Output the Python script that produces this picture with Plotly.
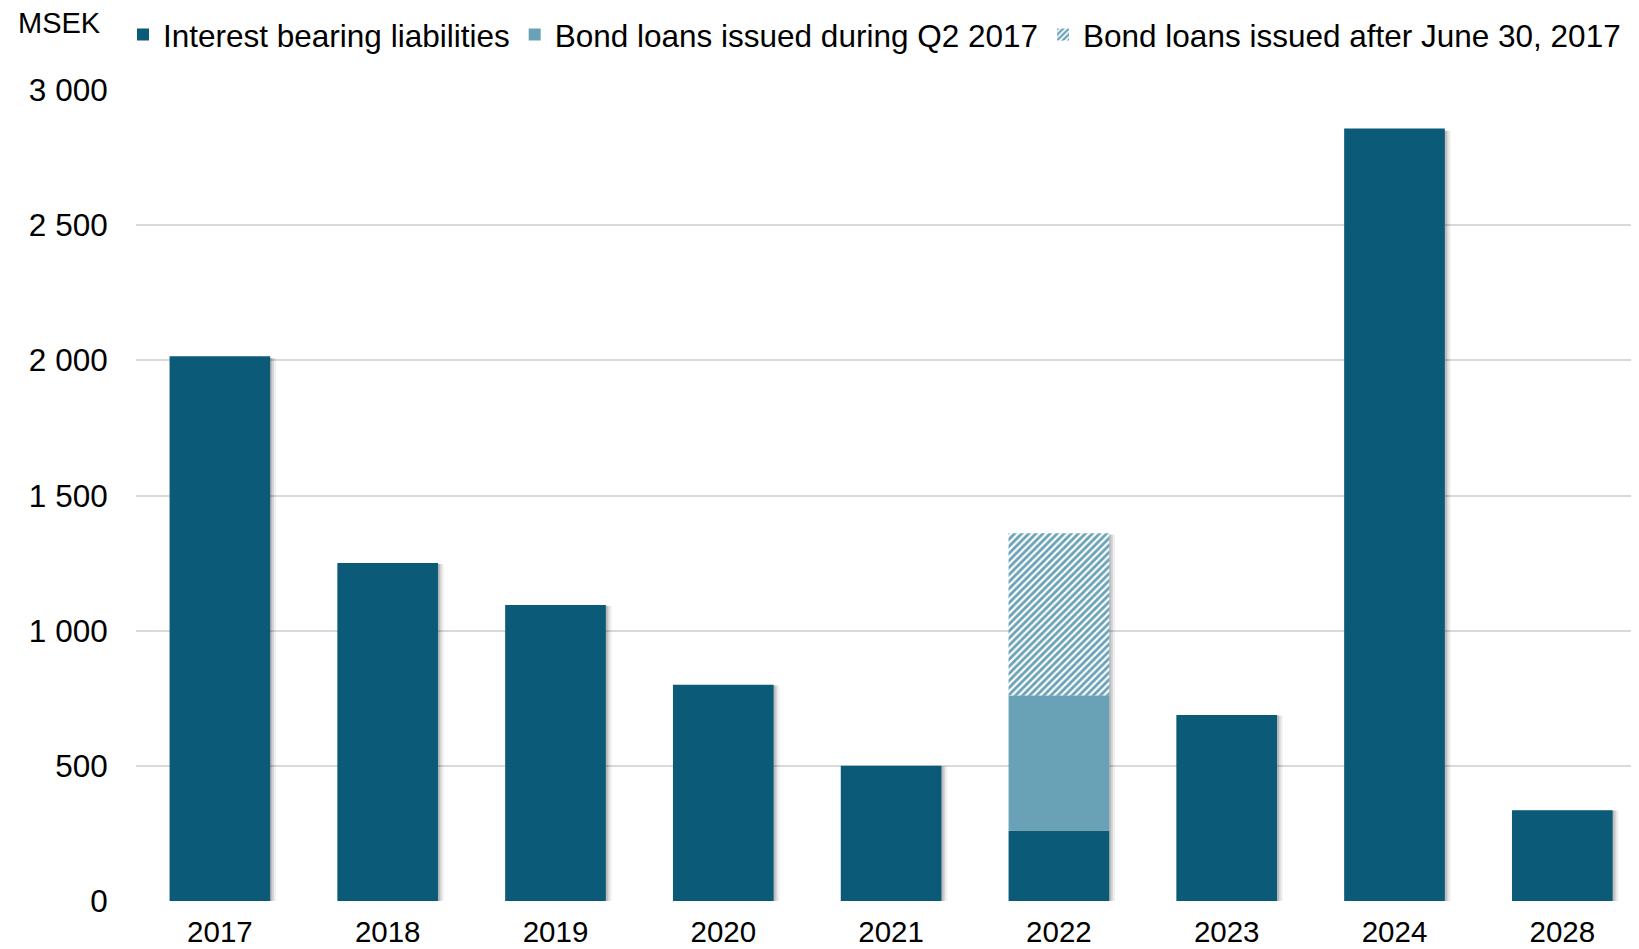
import plotly.graph_objects as go

years = ["2017", "2018", "2019", "2020", "2021", "2022", "2023", "2024", "2028"]
interest_bearing = [2015, 1250, 1095, 800, 500, 260, 688, 2858, 336]
bond_q2_2017 = [0, 0, 0, 0, 0, 500, 0, 0, 0]
bond_after_june = [0, 0, 0, 0, 0, 600, 0, 0, 0]
y_tickvals = [0, 500, 1000, 1500, 2000, 2500, 3000]
y_ticktext = ["0", "500", "1 000", "1 500", "2 000", "2 500", "3 000"]

DARK = "#0a5a78"
LIGHT = "#69a2b7"
FONT = "Liberation Sans, Arial, sans-serif"

totals = [a + b + c for a, b, c in zip(interest_bearing, bond_q2_2017, bond_after_june)]
base_after = [a + b for a, b in zip(interest_bearing, bond_q2_2017)]

# the page body adds an 8px margin; the plot area runs past the right edge of the window
W, H = 1680, 941
ML, MT, MB = 128, 82, 48
PW, PH = W - ML, H - MT - MB
STEP = 167.8  # pixels per category

fig = go.Figure()

# soft shadows to the right of the bars
for off, alpha in [(0.035, 0.06), (0.022, 0.10), (0.012, 0.12)]:
    fig.add_trace(go.Bar(
        x=years, y=[t * 0.997 for t in totals], base=0,
        width=0.6, offset=-0.3 + off,
        marker=dict(color=f"rgba(0,0,0,{alpha})", line=dict(width=0)),
        showlegend=False, hoverinfo="skip",
    ))

fig.add_trace(go.Bar(
    x=years, y=interest_bearing, base=0, width=0.6, offset=-0.3,
    name="Interest bearing liabilities",
    marker=dict(color=DARK, line=dict(width=0)),
))
fig.add_trace(go.Bar(
    x=years, y=bond_q2_2017, base=interest_bearing, width=0.6, offset=-0.3,
    name="Bond loans issued during Q2 2017",
    marker=dict(color=LIGHT, line=dict(width=0)),
))
fig.add_trace(go.Bar(
    x=years, y=bond_after_june, base=base_after, width=0.6, offset=-0.3,
    name="Bond loans issued after June 30, 2017",
    marker=dict(color="white", line=dict(width=0),
                pattern=dict(shape="/", fgcolor=LIGHT, bgcolor="white",
                             size=5, solidity=0.55, fillmode="replace")),
))

fig.update_layout(
    width=W, height=H,
    barmode="overlay",
    paper_bgcolor="white", plot_bgcolor="white",
    margin=dict(l=ML, r=0, t=MT, b=MB, autoexpand=False),
    font=dict(family=FONT, size=29, color="black"),
    showlegend=True,
    legend=dict(
        orientation="h", xref="container", yref="container",
        x=115 / W, y=1 - 26.5 / H, xanchor="left", yanchor="middle",
        font=dict(family=FONT, size=31.5, color="black"),
        bgcolor="rgba(0,0,0,0)", traceorder="normal",
    ),
    xaxis=dict(
        type="category", range=[-0.5, -0.5 + PW / STEP],
        showgrid=False, zeroline=False, showline=False,
        ticks="outside", ticklen=5, tickcolor="rgba(0,0,0,0)",
        tickfont=dict(family=FONT, size=29.5, color="black"),
    ),
    yaxis=dict(
        range=[0, 3000], tickvals=y_tickvals, ticktext=y_ticktext,
        showgrid=True, gridcolor="#d9d9d9", gridwidth=2,
        zeroline=False, showline=False,
        ticks="outside", ticklen=21, tickcolor="rgba(0,0,0,0)",
        tickfont=dict(family=FONT, size=31.5, color="black"),
    ),
    annotations=[dict(
        text="MSEK", xref="paper", yref="paper",
        x=(51.5 - ML) / PW, y=(PH + MT - 15) / PH, xanchor="center", yanchor="middle",
        showarrow=False, font=dict(family=FONT, size=29, color="black"),
    )],
)

fig.write_html("out.html")
